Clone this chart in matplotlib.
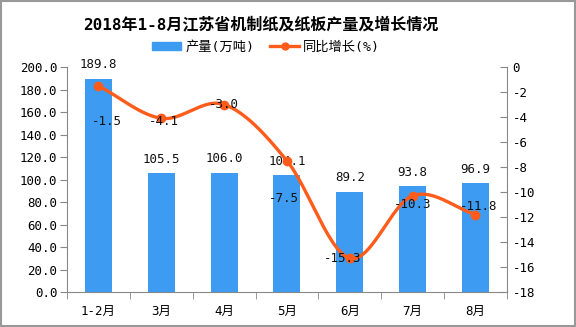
import numpy as np
import matplotlib
matplotlib.use("Agg")
import matplotlib.pyplot as plt
from matplotlib.patches import Rectangle, Patch
from matplotlib.lines import Line2D
from matplotlib.ticker import FormatStrFormatter, FixedLocator

plt.rcParams['font.family'] = ['DejaVu Sans Mono', 'Noto Sans CJK SC']
plt.rcParams['axes.unicode_minus'] = False

months = ["1-2月", "3月", "4月", "5月", "6月", "7月", "8月"]
output = [189.8, 105.5, 106.0, 104.1, 89.2, 93.8, 96.9]
growth = [-1.5, -4.1, -3.0, -7.5, -15.3, -10.3, -11.8]

BAR_COLOR = "#3d9cf2"
LINE_COLOR = "#ff5b1a"
AXIS_COLOR = "#888888"
FS = 9


def catmull_rom(xs, ys, steps=30):
    # smooth curve passing through every point
    px = np.concatenate([[2 * xs[0] - xs[1]], xs, [2 * xs[-1] - xs[-2]]])
    py = np.concatenate([[2 * ys[0] - ys[1]], ys, [2 * ys[-1] - ys[-2]]])
    outX, outY = [], []
    t = np.linspace(0, 1, steps)
    for i in range(1, len(px) - 2):
        for p, out in ((px, outX), (py, outY)):
            p0, p1, p2, p3 = p[i - 1], p[i], p[i + 1], p[i + 2]
            out.extend(0.5 * ((2 * p1) + (-p0 + p2) * t
                              + (2 * p0 - 5 * p1 + 4 * p2 - p3) * t ** 2
                              + (-p0 + 3 * p1 - 3 * p2 + p3) * t ** 3))
    return np.array(outX), np.array(outY)


fig = plt.figure(figsize=(5.76, 3.27), dpi=100)
ax = fig.add_axes([0.1163, 0.107, 0.7637, 0.688])
ax2 = ax.twinx()

x = np.arange(len(months))
ax.bar(x, output, width=0.43, color=BAR_COLOR, zorder=2)
for xi, v in zip(x, output):
    ax.annotate("%.1f" % v, (xi, v), xytext=(0, 10), textcoords="offset points",
                ha="center", va="center", fontsize=FS, color="#111111")

ax.set_xlim(-0.5, len(months) - 0.5)
ax.set_ylim(0, 200)
ax.set_yticks(np.arange(0, 201, 20))
ax.yaxis.set_major_formatter(FormatStrFormatter("%.1f"))
ax.set_xticks(x)
ax.set_xticklabels(months)
ax.xaxis.set_minor_locator(FixedLocator(np.arange(-0.5, len(months), 1.0)))
ax.tick_params(axis="x", which="major", length=0, pad=9, labelsize=FS)
ax.tick_params(axis="x", which="minor", length=5, color=AXIS_COLOR, direction="out")
ax.tick_params(axis="y", length=5, color=AXIS_COLOR, direction="out", labelsize=FS, pad=2)

sx, sy = catmull_rom(x.astype(float), np.array(growth))
ax2.plot(sx, sy, color=LINE_COLOR, lw=2.4, zorder=3, solid_capstyle="round")
ax2.plot(x, growth, "o", color=LINE_COLOR, ms=6, zorder=4)

# label nudges (points) so the growth labels sit clear of the bar labels
nudge = [(6, -26), (2, -2), (0, 0), (-2, -27), (-5, 0), (0, -6), (2, 6)]
for xi, v, (dx, dy) in zip(x, growth, nudge):
    ax2.annotate("%.1f" % v, (xi, v), xytext=(dx, dy), textcoords="offset points",
                 ha="center", va="center", fontsize=FS, color="#111111", zorder=5)

ax2.set_ylim(-18, 0)
ax2.set_yticks(np.arange(-18, 1, 2))
ax2.tick_params(axis="y", length=5, color=AXIS_COLOR, direction="in", labelsize=FS, pad=4)

for a in (ax, ax2):
    a.spines["top"].set_visible(False)
    for s in ("left", "right", "bottom"):
        a.spines[s].set_color(AXIS_COLOR)
ax.spines["right"].set_visible(False)
ax2.spines["left"].set_visible(False)
ax2.spines["bottom"].set_visible(False)

fig.text(0.453, 0.925, "2018年1-8月江苏省机制纸及纸板产量及增长情况", ha="center", va="center",
         fontsize=11.5, fontweight="bold")

handles = [Patch(color=BAR_COLOR, label="产量(万吨)"),
           Line2D([], [], color=LINE_COLOR, lw=2.4, marker="o", ms=5, label="同比增长(%)")]
fig.legend(handles=handles, loc="center", bbox_to_anchor=(0.462, 0.855), ncol=2, frameon=False,
           fontsize=9.5, handlelength=2.2, handleheight=0.6, columnspacing=1.2, handletextpad=0.3)

fig.patches.append(Rectangle((0.001, 0.002), 0.997, 0.995, transform=fig.transFigure,
                             fill=False, edgecolor="#999999", lw=1.5))

fig.savefig("out.png", dpi=100)
